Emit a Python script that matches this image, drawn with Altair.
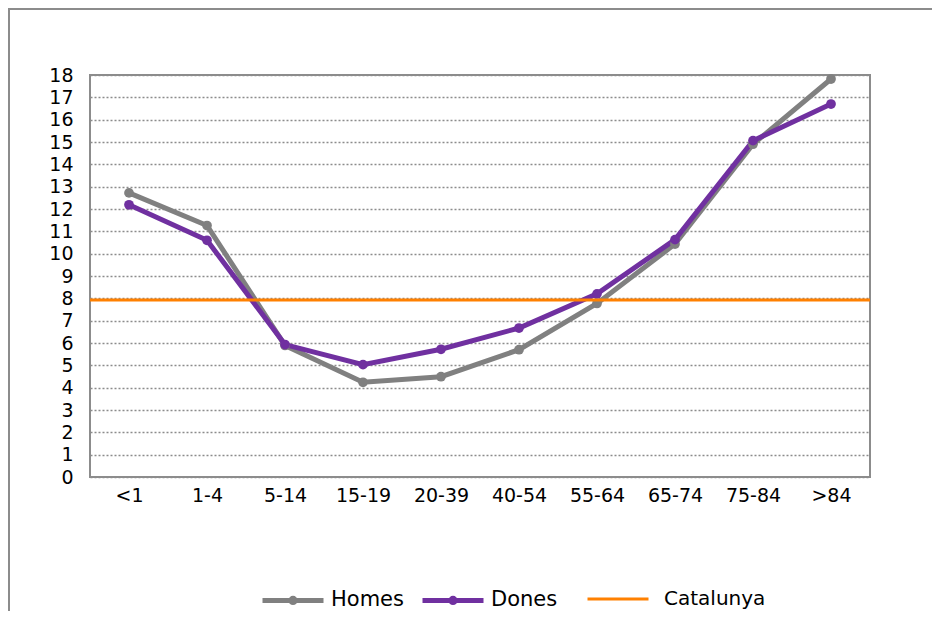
import altair as alt
import pandas as pd

categories = ["<1", "1-4", "5-14", "15-19", "20-39", "40-54", "55-64", "65-74", "75-84", ">84"]
homes = [12.72, 11.26, 5.89, 4.24, 4.49, 5.70, 7.77, 10.43, 14.90, 17.82]
dones = [12.19, 10.60, 5.93, 5.03, 5.72, 6.67, 8.20, 10.63, 15.06, 16.70]
catalunya = [7.93]

series_names = ["Homes", "Dones"]
series_colors = ["#808080", "#7030A0"]
cat_name = ["Catalunya"]
cat_color = ["#FF8000"]

df = pd.DataFrame({
    "grup": categories * 2,
    "serie": ["Homes"] * len(categories) + ["Dones"] * len(categories),
    "valor": homes + dones,
})
cat_df = pd.DataFrame({"serie": cat_name, "valor": catalunya})
frame_df = pd.DataFrame({"f": [0]})

line_dot = "M-1,0H1M0.07,0A0.07,0.07 0 1,1 -0.07,0A0.07,0.07 0 1,1 0.07,0"

x_enc = alt.X(
    "grup:N", sort=categories,
    scale=alt.Scale(type="point", padding=0.5),
    axis=alt.Axis(title=None, labelAngle=0, ticks=False, tickSize=0, domain=False,
                  labelFont="DejaVu Sans", labelFontSize=19, labelColor="#000",
                  labelBaseline="alphabetic", labelPadding=24),
)
y_axis = alt.Axis(title=None, values=list(range(19)), ticks=False, tickSize=0, domain=False,
                  labelFont="DejaVu Sans", labelFontSize=19, labelColor="#000",
                  labelPadding=17, labelOverlap=False, grid=True, gridDash=[2, 2],
                  gridColor="#8c8c8c", gridWidth=1.3)
y_scale = alt.Scale(domain=[0, 18], nice=False, zero=True)

frame = alt.Chart(frame_df).mark_rect(fillOpacity=0, stroke="#8c8c8c", strokeWidth=2).encode(
    x=alt.value(-81), x2=alt.value(1000), y=alt.value(-66), y2=alt.value(800)
)

lines = alt.Chart(df).mark_line(
    strokeWidth=5, point=alt.OverlayMarkDef(filled=True, size=95)
).encode(
    x=x_enc, y=alt.Y("valor:Q", scale=y_scale, axis=y_axis),
    color=alt.Color("serie:N", sort=series_names,
                    scale=alt.Scale(domain=series_names, range=series_colors),
                    legend=alt.Legend(title=None, orient="none", legendX=170, legendY=492,
                                      direction="horizontal", symbolType=line_dot,
                                      symbolSize=3721, symbolStrokeWidth=5,
                                      labelFont="DejaVu Sans", labelFontSize=21,
                                      labelColor="#000", labelOffset=5, columnPadding=8,
                                      padding=0, labelLimit=300)),
)

rule = alt.Chart(cat_df).mark_rule(strokeWidth=3).encode(
    y=alt.Y("valor:Q", scale=y_scale, axis=y_axis),
    color=alt.Color("serie:N",
                    scale=alt.Scale(domain=cat_name, range=cat_color),
                    legend=alt.Legend(title=None, orient="none", legendX=496, legendY=492,
                                      symbolType="stroke", symbolSize=3721,
                                      symbolStrokeWidth=3, labelFont="DejaVu Sans",
                                      labelFontSize=20, labelColor="#000", labelOffset=14,
                                      padding=0, labelLimit=300)),
)

chart = alt.layer(frame, lines, rule).resolve_scale(color="independent").properties(
    width=780, height=402,
    padding={"left": 82, "top": 67, "right": 62, "bottom": 134},
    autosize=alt.AutoSizeParams(type="none"),
    background="white",
).configure_view(stroke="#8c8c8c", strokeWidth=2)

chart.save("out.html", embed_options={"renderer": "svg", "actions": False})
